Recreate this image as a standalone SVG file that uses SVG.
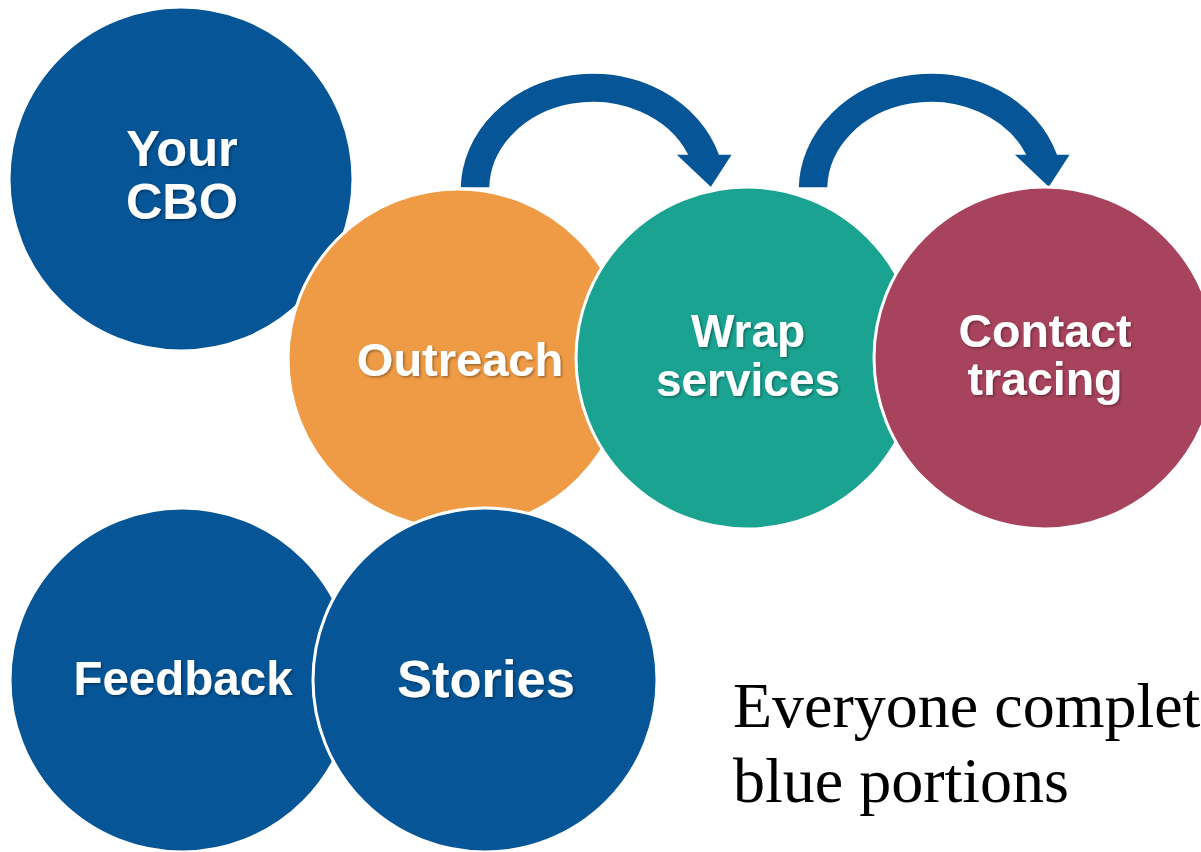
<svg xmlns="http://www.w3.org/2000/svg" width="1201" height="852" viewBox="0 0 1201 852">
<defs>
<filter id="ts" x="-10%" y="-20%" width="120%" height="140%">
<feDropShadow dx="1.5" dy="1.5" stdDeviation="1" flood-color="#000" flood-opacity="0.35"/>
</filter>
<path id="arrow" d="M460,188 A133,117 0 0 1 719.5,154 L733,154 L711,188 L675,154 L687,154 A103,87 0 0 0 490,188 Z"/>
</defs>
<style>
.c{stroke:#fff;stroke-width:3}
.blue{fill:#055597}
.orange{fill:#EF9B45}
.teal{fill:#1BA391}
.maroon{fill:#A8435D}
.lbl{font-family:"Liberation Sans",Arial,sans-serif;font-weight:bold;fill:#fff;text-anchor:middle;filter:url(#ts)}
.note{font-family:"Liberation Serif","Times New Roman",serif;font-size:64px;fill:#000}
.arr{fill:#055597;stroke:#fff;stroke-width:1.5}
</style>
<rect width="1201" height="852" fill="#fff"/>
<g id="your-cbo">
<circle class="c blue" cx="181" cy="179" r="172"/>
<text class="lbl" font-size="50.5" x="182" y="166">Your</text>
<text class="lbl" font-size="50.5" x="182" y="219">CBO</text>
</g>
<g id="connectors">
<use href="#arrow" class="arr"/>
<use href="#arrow" class="arr" transform="translate(338,0)"/>
</g>
<g id="outreach">
<circle class="c orange" cx="458" cy="359" r="170"/>
<text class="lbl" font-size="47" x="460" y="376">Outreach</text>
</g>
<g id="wrap-services">
<circle class="c teal" cx="747" cy="358" r="171"/>
<text class="lbl" font-size="46" x="748" y="347">Wrap</text>
<text class="lbl" font-size="46" x="748" y="396">services</text>
</g>
<g id="contact-tracing">
<circle class="c maroon" cx="1045" cy="358" r="171"/>
<text class="lbl" font-size="46.5" x="1045" y="347">Contact</text>
<text class="lbl" font-size="46.5" x="1045" y="395">tracing</text>
</g>
<g id="feedback">
<circle class="c blue" cx="182" cy="680" r="172"/>
<text class="lbl" font-size="47.5" x="183" y="695">Feedback</text>
</g>
<g id="stories">
<circle class="c blue" cx="485" cy="680" r="172"/>
<text class="lbl" font-size="52.5" x="486" y="697">Stories</text>
</g>
<g id="note">
<text class="note" x="733" y="727">Everyone complet</text>
<text class="note" x="733" y="802">blue portions</text>
</g>
</svg>
